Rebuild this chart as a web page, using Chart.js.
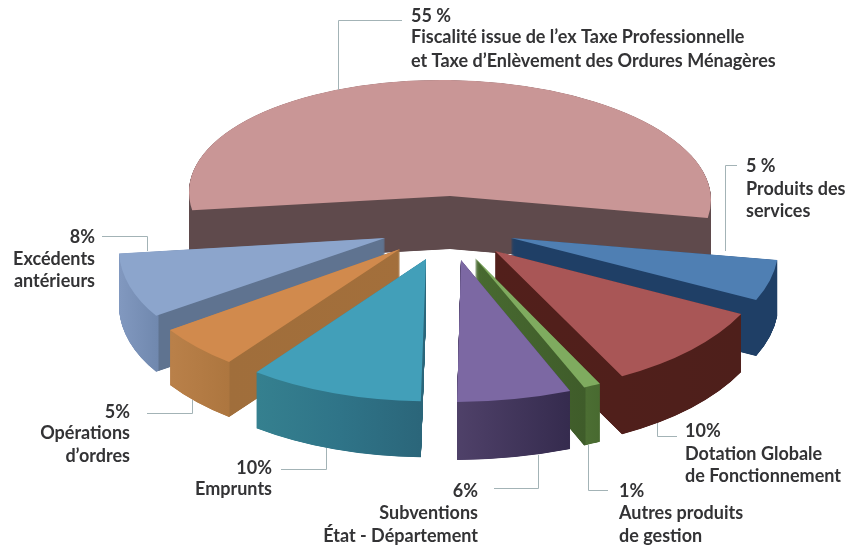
<!DOCTYPE html>
<html lang="fr">
<head>
<meta charset="utf-8">
<title>Recettes</title>
<script src="https://cdn.jsdelivr.net/npm/chart.js@4/dist/chart.umd.min.js"></script>
<style>
  html, body { margin: 0; background: #fff; }
  canvas { display: block; }
</style>
</head>
<body>
<canvas id="camembert" width="845" height="546"></canvas>
<script>
const categories = [
    'Fiscalité issue de l’ex Taxe Professionnelle et Taxe d’Enlèvement des Ordures Ménagères',
    'Produits des services', 'Dotation Globale de Fonctionnement', 'Autres produits de gestion',
    'Subventions État - Département', 'Emprunts', 'Opérations d’ordres', 'Excédents antérieurs'
];
const valeurs = [55, 5, 10, 1, 6, 10, 5, 8];
const pourcentages = ['55 %', '5 %', '10%', '1%', '6%', '10%', '5%', '8%'];
const libelles = [
    ['Fiscalité issue de l’ex Taxe Professionnelle', 'et Taxe d’Enlèvement des Ordures Ménagères'],
    ['Produits des', 'services'],
    ['Dotation Globale', 'de Fonctionnement'],
    ['Autres produits', 'de gestion'],
    ['Subventions', 'État - Département'],
    ['Emprunts'],
    ['Opérations', 'd’ordres'],
    ['Excédents', 'antérieurs']
];

// couleurs de la face du dessus, puis des flancs (x ecran, couleur)
const couleursFace = ['#c99696', '#4f7fb3', '#a95656', '#7fab5f', '#7c68a3', '#429fb9', '#d18a4d', '#8ca5cc'];
const flancs = [
    [[190, '#5f4a4c'], [710, '#5f4a4c']],
    [[511, '#1f3f66'], [776, '#1f3f66']],
    [[495, '#521f1b'], [740, '#4e1f1b']],
    [[475, '#486a30'], [585, '#3f5c2a'], [586, '#4c6e33'], [600, '#486a30']],
    [[457, '#4f4169'], [570, '#352b4e']],
    [[258, '#35808f'], [340, '#2f7488'], [420, '#2b667a']],
    [[172, '#b98049'], [229, '#ad763f'], [230, '#a06e3b'], [400, '#a36f3b']],
    [[120, '#8198bf'], [158, '#7088ae'], [159, '#5f7390'], [385, '#5f7390']]
];

// perspective de chaque part : sommet, matrice du disque, hauteur du flanc
const parts = [
    { x: 450, y: 196, a: 261, b: 4, c: 0, d: 116, h: 53 },
    { x: 511, y: 238, a: 267, b: 1, c: 16, d: 134.5, h: 56 },
    { x: 495, y: 251, a: 275, b: -1, c: 2.5, d: 141, h: 58 },
    { x: 475, y: 258, a: 275, b: 0, c: 0, d: 141, h: 58 },
    { x: 461, y: 260, a: 306, b: 1.4, c: -13.5, d: 142, h: 58 },
    { x: 426, y: 259, a: 281, b: 7.6, c: -14, d: 142, h: 56 },
    { x: 400, y: 249, a: 276.5, b: 7.4, c: -18.8, d: 141.7, h: 55 },
    { x: 385, y: 238, a: 264, b: 5.5, c: -33, d: 134, h: 56 }
];
const ordreDessin = [0, 7, 6, 5, 1, 2, 3, 4];

// position du texte : x, alignement, lignes de base
const textes = [
    { x: 411, align: 'left', y: [22, 43, 67] },
    { x: 746, align: 'left', y: [172, 195, 217] },
    { x: 685, align: 'left', y: [437, 460, 482] },
    { x: 619, align: 'left', y: [497, 519, 542] },
    { x: 478, align: 'right', y: [497, 519, 542] },
    { x: 272, align: 'right', y: [474, 495] },
    { x: 130, align: 'right', y: [418, 439, 462] },
    { x: 95, align: 'right', y: [243, 265, 287] }
];
const renvois = [
    [[402, 20.5], [338.5, 20.5], [338.5, 90]],
    [[737, 165.5], [725.5, 165.5], [725.5, 251]],
    [[657.5, 423], [657.5, 436.5], [677, 436.5]],
    [[588.5, 445], [588.5, 490.5], [608, 490.5]],
    [[538.5, 455], [538.5, 488.5], [494, 488.5]],
    [[326.5, 448], [326.5, 469.5], [281, 469.5]],
    [[192.5, 400], [192.5, 413.5], [147, 413.5]],
    [[147.5, 251], [147.5, 236.5], [102, 236.5]]
];

// degrade horizontal en x ecran, malgre la matrice courante
function degrade(ctx, stops) {
    const m = ctx.getTransform(), n = m.a * m.a + m.c * m.c;
    const x0 = stops[0][0], x1 = stops[stops.length - 1][0];
    const t0 = (x0 - m.e) / n, t1 = (x1 - m.e) / n;
    const g = ctx.createLinearGradient(m.a * t0, m.c * t0, m.a * t1, m.c * t1);
    stops.forEach(s => g.addColorStop((s[0] - x0) / (x1 - x0), s[1]));
    return g;
}

function placer(ctx, arc, p, dy) {
    const r = arc.outerRadius;
    ctx.setTransform(1, 0, 0, 1, 0, 0);
    ctx.translate(p.x, p.y + dy);
    ctx.transform(p.a / r, p.b / r, p.c / r, p.d / r, 0, 0);
    ctx.translate(-arc.x, -arc.y);
}

const pie3d = {
    id: 'pie3d',
    beforeDatasetDraw(chart, args) {
        const ctx = chart.ctx, arcs = args.meta.data;
        ctx.save();
        ordreDessin.forEach(i => {
            const arc = arcs[i], p = parts[i], couleur = arc.options.backgroundColor;
            placer(ctx, arc, p, 0);
            arc.options.backgroundColor = degrade(ctx, flancs[i]);
            // pas fin : sinon la pointe des parts reste pale
            for (let dy = p.h; dy > 0; dy -= 0.25) {
                placer(ctx, arc, p, dy);
                arc.draw(ctx);
            }
            arc.options.backgroundColor = couleur;
            placer(ctx, arc, p, 0);
            arc.draw(ctx);
        });
        ctx.restore();
        return false;
    },
    afterDraw(chart) {
        const ctx = chart.ctx;
        ctx.save();
        ctx.strokeStyle = '#a3b3b6';
        ctx.lineWidth = 1;
        renvois.forEach(pts => {
            ctx.beginPath();
            pts.forEach((q, k) => k ? ctx.lineTo(q[0], q[1]) : ctx.moveTo(q[0], q[1]));
            ctx.stroke();
        });
        ctx.fillStyle = '#333335';
        ctx.font = 'bold 18px Lato';
        textes.forEach((t, i) => {
            ctx.textAlign = t.align;
            [pourcentages[i]].concat(libelles[i]).forEach((ligne, k) => ctx.fillText(ligne, t.x, t.y[k]));
        });
        ctx.restore();
    }
};

new Chart(document.getElementById('camembert').getContext('2d'), {
    type: 'pie',
    data: {
        labels: categories,
        datasets: [{ data: valeurs, backgroundColor: couleursFace, borderWidth: 0 }]
    },
    options: {
        responsive: false,
        animation: false,
        rotation: 261,
        events: [],
        plugins: { legend: { display: false }, tooltip: { enabled: false } }
    },
    plugins: [pie3d]
});
</script>
</body>
</html>
